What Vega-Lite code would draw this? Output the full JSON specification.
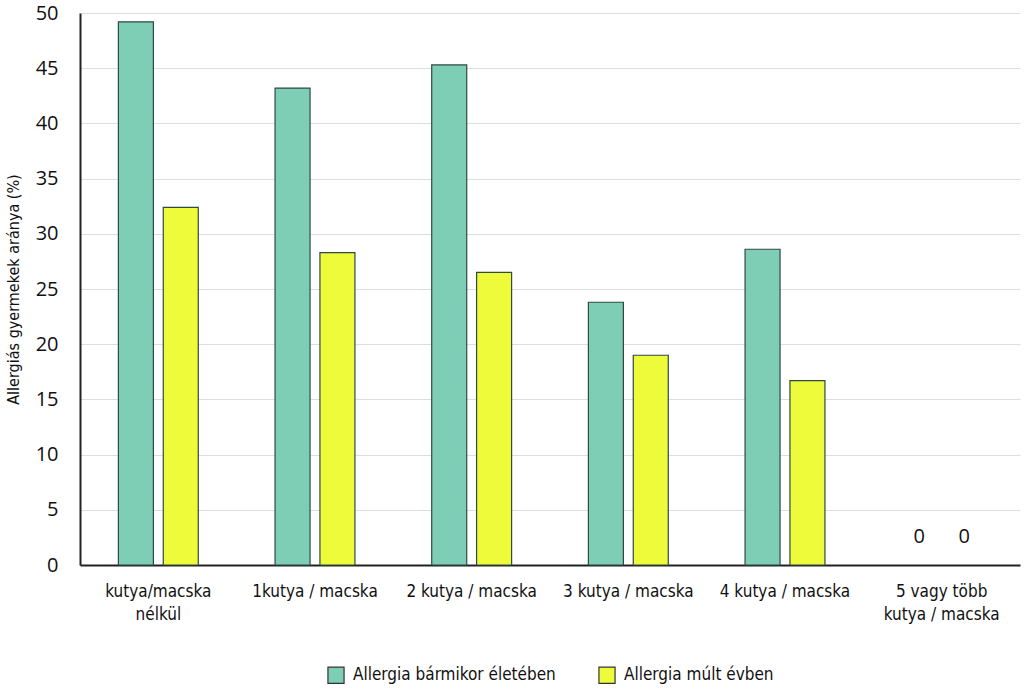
{
  "$schema": "https://vega.github.io/schema/vega-lite/v6.json",
  "autosize": {"type": "fit", "contains": "padding"},
  "width": 1024,
  "height": 690,
  "padding": {"left": 5, "top": 3, "right": 4, "bottom": 4},
  "background": "white",
  "config": {
    "view": {"stroke": null},
    "legend": {"layout": {"bottom": {"anchor": "middle"}}}
  },
  "data": {
    "values": [
      {"group": "kutya/macska nélkül", "series": "Allergia bármikor életében", "value": 49.2},
      {"group": "kutya/macska nélkül", "series": "Allergia múlt évben", "value": 32.4},
      {"group": "1kutya / macska", "series": "Allergia bármikor életében", "value": 43.2},
      {"group": "1kutya / macska", "series": "Allergia múlt évben", "value": 28.3},
      {"group": "2 kutya / macska", "series": "Allergia bármikor életében", "value": 45.3},
      {"group": "2 kutya / macska", "series": "Allergia múlt évben", "value": 26.5},
      {"group": "3 kutya / macska", "series": "Allergia bármikor életében", "value": 23.8},
      {"group": "3 kutya / macska", "series": "Allergia múlt évben", "value": 19.0},
      {"group": "4 kutya / macska", "series": "Allergia bármikor életében", "value": 28.6},
      {"group": "4 kutya / macska", "series": "Allergia múlt évben", "value": 16.7},
      {"group": "5 vagy több kutya / macska", "series": "Allergia bármikor életében", "value": 0},
      {"group": "5 vagy több kutya / macska", "series": "Allergia múlt évben", "value": 0}
    ]
  },
  "encoding": {
    "x": {
      "field": "group", "type": "nominal", "sort": null,
      "scale": {"paddingInner": 0.49, "paddingOuter": 0.245},
      "axis": {
        "title": null, "labelAngle": 0, "ticks": false, "domain": true,
        "domainColor": "#222", "domainWidth": 2,
        "labelFont": "DejaVu Sans Condensed, Roboto, sans-serif", "labelFontSize": 17, "labelColor": "#111",
        "labelPadding": 18, "labelLineHeight": 23, "labelLimit": 200,
        "labelExpr": "datum.value == 'kutya/macska nélkül' ? ['kutya/macska', 'nélkül'] : datum.value == '5 vagy több kutya / macska' ? ['5 vagy több', 'kutya / macska'] : datum.value"
      }
    },
    "xOffset": {"field": "series", "type": "nominal", "scale": {"paddingInner": 0.22, "paddingOuter": 0}},
    "y": {
      "field": "value", "type": "quantitative",
      "scale": {"domain": [0, 50]},
      "axis": {
        "title": "Allergiás gyermekek aránya (%)",
        "titleFont": "DejaVu Sans Condensed, Roboto, sans-serif", "titleFontSize": 16, "titleFontWeight": "normal", "titleColor": "#111",
        "titlePadding": 14,
        "values": [0, 5, 10, 15, 20, 25, 30, 35, 40, 45, 50],
        "ticks": false, "domain": true, "domainColor": "#222", "domainWidth": 2,
        "grid": true, "gridColor": "#dddddd", "gridWidth": 1.2,
        "labelFont": "Open Sans", "labelFontSize": 20, "labelColor": "#111", "labelPadding": 22
      }
    }
  },
  "layer": [
    {
      "mark": {"type": "bar", "stroke": "#2f4a44", "strokeWidth": 1.2},
      "encoding": {
        "strokeOpacity": {"condition": {"test": "datum.value == 0", "value": 0}, "value": 1},
        "color": {
          "field": "series", "type": "nominal",
          "scale": {"domain": ["Allergia bármikor életében", "Allergia múlt évben"], "range": ["#7ecdb5", "#eefb3a"]},
          "legend": {
            "title": null, "orient": "bottom", "direction": "horizontal",
            "symbolType": "square", "symbolSize": 260, "symbolStrokeColor": "#333", "symbolStrokeWidth": 1.2,
            "labelFont": "DejaVu Sans Condensed, Roboto, sans-serif", "labelFontSize": 17, "labelColor": "#111",
            "columnPadding": 40, "offset": 44, "labelOffset": 8, "labelLimit": 300
          }
        }
      }
    },
    {
      "transform": [{"filter": "datum.value == 0"}],
      "mark": {"type": "text", "font": "Open Sans", "fontSize": 20, "color": "#111", "dy": -28},
      "encoding": {"text": {"field": "value", "type": "quantitative"}}
    }
  ]
}
